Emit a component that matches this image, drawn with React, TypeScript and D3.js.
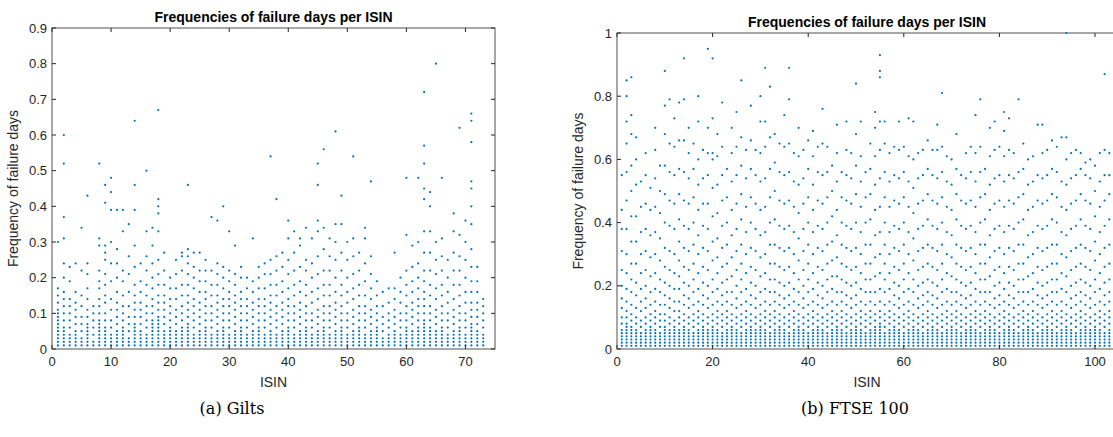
import React from 'react';
import * as d3 from 'd3';

// values are frequencies in hundredths, one string per ISIN
const giltsValues: string[] = [
  '1 2 3 4 5 6 7 8 9 10 11 13 15 17 30', '1 2 3 4 5 6 8 10 12 14 16 20 24 31 37 52 60', '1 2 3 4 6 8 10 12 14 19 23', '1 2 3 4 5 7 9 11 13 16 24', '1 2 3 5 7 9 12 15 22 34',
  '1 2 3 4 5 6 7 9 11 14 17 21 24 43', '1 2 4 6 8 10 12', '1 2 3 4 5 6 7 8 10 12 14 17 19 22 29 31 52', '1 2 3 4 5 6 8 10 13 15 18 21 25 27 29 41 46', '1 2 3 4 6 8 11 14 19 24 30 39 44 48',
  '1 2 3 4 5 7 9 11 13 16 20 24 28 39', '1 2 3 4 5 6 8 10 12 15 19 22 33 39', '1 2 3 5 7 9 12 16 21 26 35', '1 2 3 4 5 6 7 9 11 13 15 18 23 29 39 46 64', '1 2 3 4 5 7 9 11 13 16 19 24',
  '1 2 3 4 6 8 10 12 15 18 22 26 33 50', '1 2 3 4 5 6 7 8 10 12 14 17 20 24 29 34', '1 2 3 4 5 6 7 8 9 11 13 15 18 21 25 33 38 40 42 67', '1 2 3 4 5 7 9 11 13 15 18 22 27', '1 2 3 4 5 6 8 10 12 14 17 20',
  '1 2 3 4 5 7 9 11 14 17 21 25', '1 2 3 4 5 6 8 10 12 15 18 22 26 27', '1 2 3 4 5 6 7 9 11 13 15 18 21 24 26 28 46', '1 2 3 4 6 8 10 12 14 17 20 23 27', '1 2 3 4 5 7 9 11 13 16 19 22 27',
  '1 2 3 4 5 6 8 10 12 14 16 19 22 25', '1 2 3 4 6 8 10 12 15 18 22 37', '1 2 3 4 5 7 9 11 13 15 18 21 24 36', '1 2 3 4 5 6 8 10 12 14 17 20 23 40', '1 2 3 4 6 8 10 12 14 16 19 22 33',
  '1 2 3 4 5 7 9 11 13 15 18 21 29', '1 2 3 4 5 6 8 10 12 14 16 20 23', '1 2 3 4 6 8 10 12 14 17 20', '1 2 3 4 5 7 9 11 13 16 19 31', '1 2 3 4 5 6 8 10 12 14 17 20 23',
  '1 2 3 4 6 8 10 12 14 17 21 24', '1 2 3 4 5 7 9 11 13 15 18 21 25 54', '1 2 3 4 6 8 10 12 15 18 22 26 42', '1 2 3 4 5 7 9 11 13 16 19 23 27', '1 2 3 4 5 6 8 10 12 14 17 21 25 31 36',
  '1 2 3 4 6 8 10 12 15 18 22 27 33', '1 2 3 4 5 7 9 11 13 16 19 23 29 31', '1 2 3 4 5 6 8 10 12 15 18 22 25 34', '1 2 3 4 6 8 10 13 16 20 24 31', '1 2 3 4 5 7 9 11 14 17 21 26 33 36 46 52',
  '1 2 3 4 5 6 8 10 12 15 18 22 28 34 56', '1 2 3 4 6 8 10 12 15 18 22 26 31', '1 2 3 4 5 7 9 11 13 16 20 25 30 35 61', '1 2 3 4 5 6 8 10 12 15 18 22 27 35 43', '1 2 3 4 6 8 10 13 16 20 25 30',
  '1 2 3 4 5 7 9 11 14 17 21 26 31 54', '1 2 3 4 5 6 8 10 12 15 18 22 27', '1 2 3 4 6 8 10 12 15 19 24 31 34', '1 2 3 4 5 7 9 11 14 17 21 26 47', '1 2 3 4 5 6 8 10 12 15 19',
  '1 2 3 5 7 9 12 16', '1 2 3 4 6 8 10 13 17', '1 2 3 4 5 7 9 11 14 17 27', '1 2 3 4 6 8 10 13 16 20', '1 2 3 4 5 6 8 10 12 15 18 22 32 48',
  '1 2 3 4 5 7 9 11 13 16 19 23 29', '1 2 3 4 5 6 8 10 12 14 17 20 24 30 48', '1 2 3 4 5 6 7 8 10 12 14 16 19 22 27 33 42 45 52 57 72', '1 2 3 4 5 6 8 10 12 15 18 22 27 33 40 44', '1 2 3 4 5 7 9 11 14 17 21 25 30 80',
  '1 2 3 4 5 6 8 10 12 15 18 22 26 31 48', '1 2 3 4 6 8 10 13 16 20 25', '1 2 3 4 5 7 9 11 14 18 22 27 33 38', '1 2 3 4 5 6 8 10 12 15 18 22 26 32 62', '1 2 3 4 6 8 10 13 16 20 25 30 36',
  '1 2 3 4 5 6 7 9 11 13 16 19 23 28 35 40 45 47 58 64 66', '1 2 3 4 5 7 9 11 13 16 19 23', '1 2 3 4 6 8 10 12 14',
];

const ftseValues: string[] = [
  '1 2 3 4 5 6 8 10 13 16 20 25 31 38 44 55', '1 2 3 4 5 6 7 8 10 12 15 19 24 30 38 47 56 65 72 80 85', '1 2 3 4 5 6 7 9 11 14 18 22 27 34 42 50 58 68 74 86', '1 2 3 4 5 6 8 10 13 17 21 27 34 42 52 60 67', '1 2 3 4 5 7 9 12 15 19 24 30 37 45 53',
  '1 2 3 4 5 6 8 10 13 16 20 25 31 38 46 55 62', '1 2 3 4 5 6 7 9 11 14 18 23 29 36 44 51', '1 2 3 4 5 6 8 10 12 15 19 24 30 37 45 54 63 70', '1 2 3 4 5 7 9 11 14 18 22 28 35 43 50 58', '1 2 3 4 5 6 7 9 11 14 17 21 26 32 40 49 58 68 77 88',
  '1 2 3 4 5 6 8 10 13 16 20 25 31 39 47 56 65 79', '1 2 3 4 5 6 7 9 12 15 19 24 30 38 46 55 64 73', '1 2 3 4 5 6 8 10 12 15 19 23 28 34 41 49 57 66 78', '1 2 3 4 5 6 7 9 11 14 17 21 26 32 39 47 56 66 79 92', '1 2 3 4 5 6 8 10 13 16 20 25 31 38 46 54 62 70',
  '1 2 3 4 5 7 9 11 14 18 22 27 33 40 48 57 65', '1 2 3 4 5 6 8 10 12 15 19 24 30 36 44 52 60 72 80', '1 2 3 4 5 6 7 9 11 14 17 21 26 32 39 46 54 63', '1 2 3 4 5 6 8 10 13 16 20 25 31 38 46 55 62 70 95', '1 2 3 4 5 6 7 9 11 14 18 22 28 34 42 51 60 62 73 92',
  '1 2 3 4 5 6 8 10 12 15 19 24 29 35 43 52 61 68', '1 2 3 4 5 7 9 11 14 17 21 26 32 39 47 55 64 78', '1 2 3 4 5 6 8 10 12 15 18 22 27 33 40 48 57', '1 2 3 4 5 6 7 9 11 14 18 23 29 36 44 53 62 70', '1 2 3 4 5 6 8 10 13 16 20 25 31 38 46 55 64 75',
  '1 2 3 4 5 7 9 11 14 18 22 27 33 41 49 58 67 85', '1 2 3 4 5 6 8 10 12 15 19 24 30 37 45 54 63', '1 2 3 4 5 6 7 9 11 14 17 21 26 32 40 48 57 66 77', '1 2 3 4 5 6 8 10 13 16 20 25 31 38 46 55 63', '1 2 3 4 5 6 7 9 11 14 18 23 29 36 44 53 62 72 80',
  '1 2 3 4 5 6 8 10 12 15 19 24 30 37 45 54 64 72 89', '1 2 3 4 5 7 9 11 14 18 22 27 33 40 48 57 67 83', '1 2 3 4 5 6 8 10 12 15 18 22 27 33 41 50 59 68', '1 2 3 4 5 6 7 9 11 14 17 21 26 32 39 47 56 65', '1 2 3 4 5 6 8 10 13 16 20 25 31 38 46 55 64 74',
  '1 2 3 4 5 7 9 11 14 17 21 26 32 39 47 56 65 79 89', '1 2 3 4 5 6 8 10 12 15 19 24 30 37 45 53 62', '1 2 3 4 5 6 7 9 11 14 18 22 28 35 43 52 61 70', '1 2 3 4 5 6 8 10 13 16 20 25 31 38 46 54 63', '1 2 3 4 5 7 9 11 14 18 22 27 33 40 48 57 66',
  '1 2 3 4 5 6 8 10 12 15 19 24 30 37 44 52 61 69', '1 2 3 4 5 6 7 9 11 14 17 21 26 32 39 47 56 64', '1 2 3 4 5 6 8 10 13 16 20 25 31 38 46 55 65 76', '1 2 3 4 5 7 9 11 14 18 22 27 33 40 48 56 64', '1 2 3 4 5 6 8 10 12 15 19 23 28 34 42 50 58',
  '1 2 3 4 5 6 7 9 11 14 18 23 29 36 44 53 62 71', '1 2 3 4 5 6 8 10 12 15 18 22 27 33 40 48 56', '1 2 3 4 5 7 9 11 14 17 21 26 32 39 47 55 63 72', '1 2 3 4 5 6 8 10 13 16 20 25 31 38 46 54 62', '1 2 3 4 5 6 7 9 11 14 17 21 26 32 40 49 58 68 84',
  '1 2 3 4 5 6 8 10 12 15 19 24 30 37 45 53 61 72', '1 2 3 4 5 7 9 11 14 18 22 27 33 40 48 56', '1 2 3 4 5 6 8 10 12 15 18 22 27 33 41 49 57 65', '1 2 3 4 5 6 7 9 11 14 18 23 29 36 44 52 61 70 75', '1 2 3 4 5 6 7 8 10 12 15 19 24 30 37 45 54 63 72 86 88 93',
  '1 2 3 4 5 7 9 11 14 18 22 27 33 40 48 56 65 72', '1 2 3 4 5 6 8 10 12 15 19 24 30 37 45 53 62', '1 2 3 4 5 6 7 9 11 14 17 21 26 32 39 47 55 64', '1 2 3 4 5 6 8 10 13 16 20 25 31 38 46 54 63 72', '1 2 3 4 5 7 9 11 14 18 22 27 33 40 48 56 64',
  '1 2 3 4 5 6 8 10 12 15 19 24 30 37 45 53 61 73', '1 2 3 4 5 6 7 9 11 14 18 22 28 35 43 51 60 72', '1 2 3 4 5 6 8 10 13 16 20 25 31 38 46 54 62', '1 2 3 4 5 7 9 11 14 17 21 26 32 39 47 55 63', '1 2 3 4 5 6 8 10 12 15 18 22 27 33 41 49 57 66',
  '1 2 3 4 5 6 7 9 11 14 17 21 26 32 39 47 55 63', '1 2 3 4 5 6 8 10 13 16 20 25 31 38 46 54 63 71', '1 2 3 4 5 7 9 11 14 18 22 27 33 40 48 56 64 81', '1 2 3 4 5 6 8 10 12 15 19 24 30 37 45 53 61', '1 2 3 4 5 6 7 9 11 14 18 23 29 36 44 52 60',
  '1 2 3 4 5 6 8 10 12 15 18 22 27 33 41 49 57 68', '1 2 3 4 5 7 9 11 14 17 21 26 32 39 47 55', '1 2 3 4 5 6 8 10 13 16 20 25 31 38 46 54 62', '1 2 3 4 5 6 7 9 11 14 17 21 26 32 39 47 56 64', '1 2 3 4 5 6 8 10 12 15 19 24 30 37 45 53 62 74',
  '1 2 3 4 5 7 9 11 14 18 22 27 33 40 48 56 64 79', '1 2 3 4 5 6 8 10 12 15 18 22 27 33 41 49 57', '1 2 3 4 5 6 7 9 11 14 18 23 29 36 44 52 61 70', '1 2 3 4 5 6 8 10 13 16 20 25 31 38 46 54 63 72', '1 2 3 4 5 7 9 11 14 17 21 26 32 39 47 55 64',
  '1 2 3 4 5 6 8 10 12 15 19 24 30 37 45 53 61 69 75', '1 2 3 4 5 6 7 9 11 14 17 21 26 32 39 47 55 63 73', '1 2 3 4 5 6 8 10 13 16 20 25 31 38 46 54 62', '1 2 3 4 5 7 9 11 14 18 22 27 33 40 48 56 79', '1 2 3 4 5 6 8 10 12 15 18 22 27 33 41 49 57 65',
  '1 2 3 4 5 6 7 9 11 14 18 23 29 36 44 52 60', '1 2 3 4 5 6 8 10 12 15 19 24 30 37 45 53 61', '1 2 3 4 5 7 9 11 14 17 21 26 32 39 47 55 71', '1 2 3 4 5 6 8 10 13 16 20 25 31 38 46 54 62 71', '1 2 3 4 5 6 7 9 11 14 17 21 26 32 39 47 55 63',
  '1 2 3 4 5 6 8 10 12 15 18 22 27 33 41 49 57 66', '1 2 3 4 5 7 9 11 14 18 22 27 33 40 48 56 64', '1 2 3 4 5 6 8 10 12 15 19 24 30 37 45 53 67', '1 2 3 4 5 6 7 9 11 14 18 23 29 36 44 52 60 67 100', '1 2 3 4 5 6 8 10 13 16 20 25 31 38 46 54 62',
  '1 2 3 4 5 7 9 11 14 17 21 26 32 39 47 55 63', '1 2 3 4 5 6 8 10 12 15 18 22 27 33 41 49 57 62', '1 2 3 4 5 6 7 9 11 14 17 21 26 32 39 47 55 59', '1 2 3 4 5 6 8 10 13 16 20 25 31 38 46 54 60', '1 2 3 4 5 6 7 9 11 14 18 22 28 34 42 50 58',
  '1 2 3 4 5 6 8 10 12 15 19 24 30 37 45 53 62', '1 2 3 4 5 7 9 11 14 17 21 26 32 39 47 55 63 87', '1 2 3 4 5 6 8 10 12 15 18 22 27 33 41 49 55 62', '1 2 3 4 5 6 7 9 11 14 17 21 26 32 39 47 53',
];

const parse = (rows: string[]) =>
  rows.flatMap((s, i) => s.split(' ').map(v => ({ x: i + 1, y: +v / 100 })));

const giltsTicksY = [0, 0.1, 0.2, 0.3, 0.4, 0.5, 0.6, 0.7, 0.8, 0.9];
const giltsTicksX = [0, 10, 20, 30, 40, 50, 60, 70];
const ftseTicksY = [0, 0.2, 0.4, 0.6, 0.8, 1];
const ftseTicksX = [0, 20, 40, 60, 80, 100];

const FONT = 'Liberation Sans, Arial, sans-serif';
const BLUE = '#0072BD';

interface PanelProps {
  left: number; right: number; top: number; bottom: number;
  xMax: number; yMax: number; xTicks: number[]; yTicks: number[];
  data: { x: number; y: number }[]; caption: string; captionX: number;
}

const Panel: React.FC<PanelProps> = p => {
  const x = d3.scaleLinear().domain([0, p.xMax]).range([p.left, p.right]);
  const y = d3.scaleLinear().domain([0, p.yMax]).range([p.bottom, p.top]);
  const cx = (p.left + p.right) / 2;
  return (
    <g fontFamily={FONT}>
      <rect x={p.left} y={p.top} width={p.right - p.left} height={p.bottom - p.top} fill="white" stroke="#262626" strokeWidth={0.8} />
      {p.data.map((d, i) => <circle key={i} cx={x(d.x)} cy={y(d.y)} r={1.1} fill={BLUE} />)}
      {p.xTicks.map(t => (
        <g key={t}>
          <line x1={x(t)} x2={x(t)} y1={p.bottom} y2={p.bottom - 4} stroke="#262626" />
          <line x1={x(t)} x2={x(t)} y1={p.top} y2={p.top + 4} stroke="#262626" />
          <text x={x(t)} y={p.bottom + 17} textAnchor="middle" fontSize={13} fill="#262626">{t}</text>
        </g>
      ))}
      {p.yTicks.map(t => (
        <g key={t}>
          <line x1={p.left} x2={p.left + 4} y1={y(t)} y2={y(t)} stroke="#262626" />
          <line x1={p.right} x2={p.right - 4} y1={y(t)} y2={y(t)} stroke="#262626" />
          <text x={p.left - 5} y={y(t) + 4.5} textAnchor="end" fontSize={13} fill="#262626">{t}</text>
        </g>
      ))}
      <text x={cx} y={p.top - 6} textAnchor="middle" fontSize={14} fontWeight="bold" fill="#000">Frequencies of failure days per ISIN</text>
      <text x={cx} y={p.bottom + 38} textAnchor="middle" fontSize={14} fill="#262626">ISIN</text>
      <text transform={`translate(${p.left - 34},${(p.top + p.bottom) / 2}) rotate(-90)`} textAnchor="middle" fontSize={14} fill="#262626">Frequency of failure days</text>
      <text x={p.captionX} y={414} textAnchor="middle" fontSize={16} fontFamily="DejaVu Serif, serif" fill="#000">{p.caption}</text>
    </g>
  );
};

export default function App() {
  return (
    <svg width={1113} height={437} style={{ position: 'absolute', left: 0, top: 0, background: 'white' }}>
      <Panel left={52} right={495} top={28} bottom={349} xMax={75} yMax={0.9}
        xTicks={giltsTicksX} yTicks={giltsTicksY} data={parse(giltsValues)} caption="(a) Gilts" captionX={232} />
      <Panel left={617} right={1117} top={33} bottom={349} xMax={104.6} yMax={1}
        xTicks={ftseTicksX} yTicks={ftseTicksY} data={parse(ftseValues)} caption="(b) FTSE 100" captionX={855} />
    </svg>
  );
}
